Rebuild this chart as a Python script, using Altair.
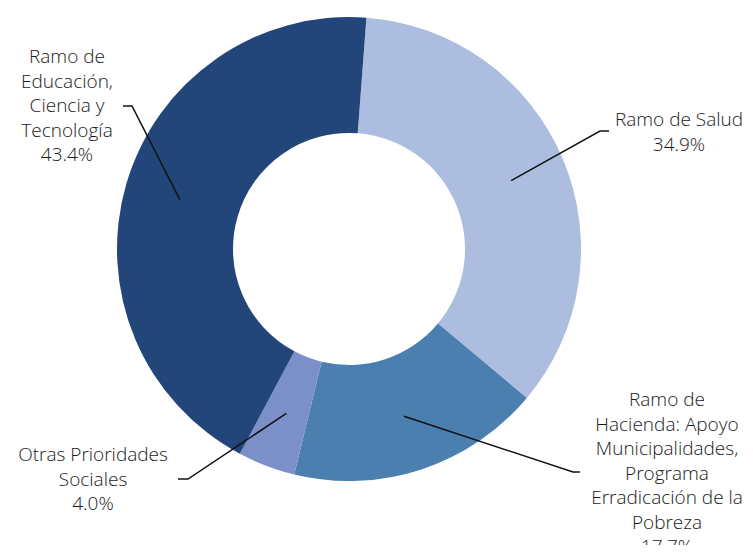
import math
import altair as alt
import pandas as pd

# ---- data ----
categories = [
    "Ramo de Salud",
    "Ramo de Hacienda: Apoyo Municipalidades, Programa Erradicación de la Pobreza",
    "Otras Prioridades Sociales",
    "Ramo de Educación, Ciencia y Tecnología",
]
values = [34.9, 17.7, 4.0, 43.4]
label_lines = [
    ["Ramo de Salud"],
    ["Ramo de", "Hacienda: Apoyo", "Municipalidades,", "Programa", "Erradicación de la", "Pobreza"],
    ["Otras Prioridades", "Sociales"],
    ["Ramo de", "Educación,", "Ciencia y", "Tecnología"],
]
colors = ["#adbde0", "#4a7fb0", "#7b8fc8", "#22467a"]

# ---- layout (plot coordinates, px) ----
W, H = 737, 537
CX, CY = 341, 241
R_OUT, R_IN = 232, 116
START = math.radians(4.3)
label_pos = [(671, 112), (659, 392), (85, 447), (59, 49)]   # center of first line
elbows = [[(592, 123), (601, 123)],
          [(565, 464), (572, 464)],
          [(180, 471), (170, 471)],
          [(124, 98), (115, 98)]]

df = pd.DataFrame({"cat": categories, "value": values, "ord": list(range(len(values)))})

donut = alt.Chart(df).mark_arc(innerRadius=R_IN, outerRadius=R_OUT).encode(
    theta=alt.Theta("value:Q", stack=True,
                    scale=alt.Scale(range=[START, START + 2 * math.pi])),
    order=alt.Order("ord:Q"),
    color=alt.Color("cat:N", scale=alt.Scale(domain=categories, range=colors), legend=None),
    x=alt.value(CX),
    y=alt.value(CY),
)

# leader lines: start at slice centroid derived from data
total = sum(values)
rows = []
cum = 0.0
r_mid = (R_IN + R_OUT) / 2 + 2
for i, v in enumerate(values):
    mid = START + 2 * math.pi * (cum + v / 2) / total
    cum += v
    px = CX + r_mid * math.sin(mid)
    py = CY - r_mid * math.cos(mid)
    pts = [(px, py)] + elbows[i]
    for k, (x, y) in enumerate(pts):
        rows.append({"seg": i, "k": k, "x": x, "y": y})
lines_df = pd.DataFrame(rows)

leaders = alt.Chart(lines_df).mark_line(color="#111111", strokeWidth=1.5).encode(
    x=alt.X("x:Q", scale=None, axis=None),
    y=alt.Y("y:Q", scale=None, axis=None),
    detail="seg:N",
    order="k:Q",
)

lab_df = pd.DataFrame({
    "text": ["\n".join(l + [f"{v:.1f}%"]) for l, v in zip(label_lines, values)],
    "lx": [p[0] for p in label_pos],
    "ly": [p[1] for p in label_pos],
})

labels = alt.Chart(lab_df).mark_text(
    font="Open Sans", fontSize=19, fontWeight=300, lineBreak="\n", lineHeight=24.5,
    align="center", baseline="middle", color="#1a1a1a",
).encode(
    x=alt.X("lx:Q", scale=None, axis=None),
    y=alt.Y("ly:Q", scale=None, axis=None),
    text="text:N",
)

chart = alt.layer(donut, leaders, labels).properties(
    width=W, height=H,
    autosize=alt.AutoSizeParams(type="none"),
    padding=0,
).configure_view(stroke=None)

chart.save("out.html", embed_options={"renderer": "svg", "actions": False})
